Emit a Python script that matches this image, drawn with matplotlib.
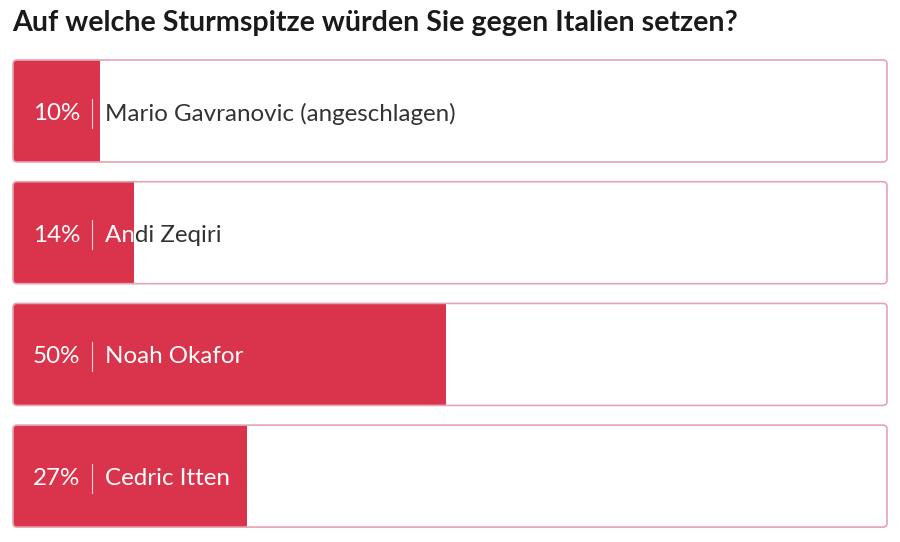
import matplotlib
matplotlib.use("Agg")
import matplotlib.pyplot as plt
from matplotlib.patches import FancyBboxPatch, Rectangle

title = "Auf welche Sturmspitze würden Sie gegen Italien setzen?"
names = ["Mario Gavranovic (angeschlagen)", "Andi Zeqiri", "Noah Okafor", "Cedric Itten"]
percent = [10, 14, 50, 27]

RED = "#D9344B"
BORDER = "#E6A3B3"
DARK = "#333333"
FONTS = ["Lato", "DejaVu Sans"]

W, H = 900, 542
fig = plt.figure(figsize=(W / 100, H / 100), dpi=100)
fig.patch.set_facecolor("white")
ax = fig.add_axes([0, 0, 1, 1])
ax.set_xlim(0, W)
ax.set_ylim(H, 0)
ax.axis("off")

plt.rcParams["font.family"] = FONTS

ax.text(12, 23, title, fontsize=20.6, fontweight="bold", color="#1a1a1a",
        va="center", ha="left", family=FONTS)

x0, x1 = 13, 887
bw = x1 - x0
top0, bh, gap = 60, 102, 19.7
total = sum(percent)

for i, (name, p) in enumerate(zip(names, percent)):
    y = top0 + i * (bh + gap)
    box = FancyBboxPatch((x0, y), bw, bh, boxstyle="round,pad=0,rounding_size=4",
                         facecolor="white", edgecolor="none", zorder=1)
    ax.add_patch(box)
    fw = bw * p / total
    fill = Rectangle((x0, y), fw, bh, facecolor=RED, edgecolor="none", zorder=2)
    ax.add_patch(fill)
    fill.set_clip_path(box)
    white_area = Rectangle((x0 + fw, y), bw - fw, bh, facecolor="none", edgecolor="none")
    ax.add_patch(white_area)
    red_area = Rectangle((x0, y), fw, bh, facecolor="none", edgecolor="none")
    ax.add_patch(red_area)
    border = FancyBboxPatch((x0, y), bw, bh, boxstyle="round,pad=0,rounding_size=4",
                            facecolor="none", edgecolor=BORDER, linewidth=1.2, zorder=5)
    ax.add_patch(border)

    cy = y + bh / 2 + 2.5
    for color, clip in (("white", red_area), (DARK, white_area)):
        t1 = ax.text(33, cy, f"{p}%", fontsize=17.4, color=color, va="center", ha="left",
                     zorder=4, family=FONTS)
        t1.set_clip_on(True)
        t1.set_clip_path(clip)
        t2 = ax.text(105, cy, name, fontsize=17.4, color=color, va="center", ha="left",
                     zorder=4, family=FONTS)
        t2.set_clip_on(True)
        t2.set_clip_path(clip)
        ln, = ax.plot([92, 92], [cy - 15, cy + 14], color=color, linewidth=0.8,
                      alpha=0.8, zorder=4)
        ln.set_clip_path(clip)

fig.savefig("out.png", dpi=100, facecolor="white")
